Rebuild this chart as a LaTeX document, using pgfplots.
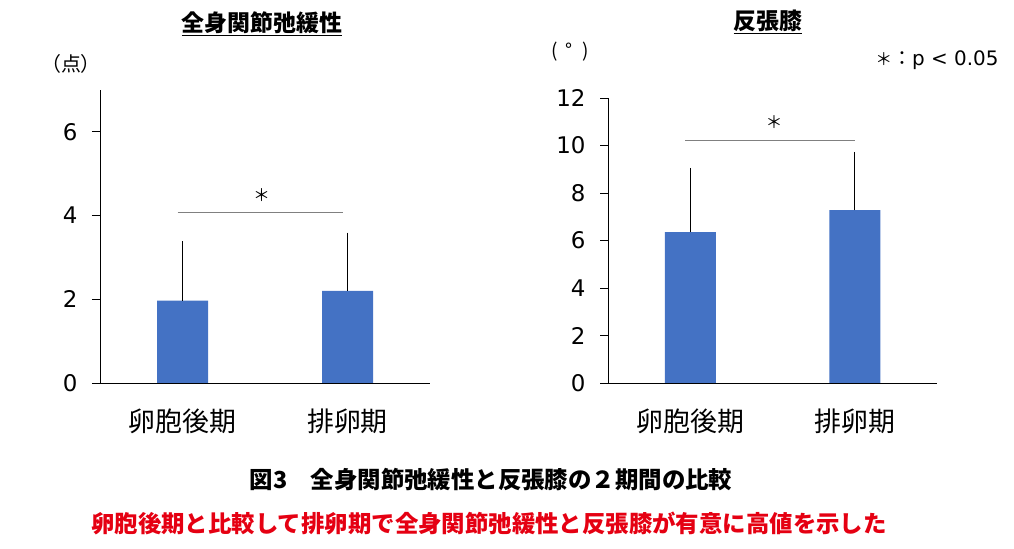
\documentclass[border=0pt]{standalone}
\usepackage{fontspec}
\setmainfont{Noto Sans CJK JP}
\newfontfamily\dejavu{DejaVu Sans}
\usepackage{pgfplots}
\pgfplotsset{compat=1.18}
\definecolor{barblue}{HTML}{4472C4}
\definecolor{capred}{HTML}{E50012}
\pgfplotsset{
 mybar/.style={
  scale only axis,
  axis lines*=left,
  x axis line style={shorten <=-8bp},
  xmin=-0.5, xmax=1.5, ymin=0,
  xtick={0,1}, xticklabels={卵胞後期,排卵期},
  xtick style={draw=none},
  tick align=outside,
  major tick length=8bp,
  ytick style={black, line width=0.8bp},
  axis line style={black, line width=0.9bp},
  /pgf/number format/assume math mode=true,
  yticklabel style={font=\dejavu\fontsize{23}{23}\selectfont, xshift=-11bp},
  xticklabel style={font=\fontsize{27}{27}\selectfont, yshift=-14bp},
  clip=false,
 },
 errbar/.style={ybar, bar width=51bp, fill=barblue, draw=none,
  error bars/.cd, y dir=plus, y explicit,
  error bar style={black, line width=0.8bp},
  error mark options={black, mark size=3bp, line width=0.9bp}},
}
\begin{document}
\begin{tikzpicture}
\path (0bp,0bp) rectangle (1014bp,549bp);
\begin{axis}[mybar, at={(100bp,166bp)}, anchor=south west,
  width=330bp, height=293bp, ymax=7, ytick={0,2,4,6}]
\addplot[errbar] coordinates {(0,1.97) +- (0,1.34) (1,2.20) +- (0,1.32)};
\addplot[gray, line width=0.8bp] coordinates {(-0.03,4.08) (0.97,4.08)};
\node at (axis cs:0.48,4.49) {\fontsize{17}{17}\selectfont ＊};
\end{axis}
\begin{axis}[mybar, at={(608bp,166bp)}, anchor=south west,
  width=329bp, height=285bp, ymax=12, ytick={0,2,4,6,8,10,12}]
\addplot[errbar] coordinates {(0,6.35) +- (0,2.58) (1,7.28) +- (0,2.33)};
\addplot[gray, line width=0.8bp] coordinates {(-0.03,10.2) (1.0,10.2)};
\node at (axis cs:0.51,11.0) {\fontsize{17}{17}\selectfont ＊};
\end{axis}
\node at (262bp,525bp) {\fontsize{23}{23}\selectfont\bfseries\underline{全身関節弛緩性}};
\node at (768bp,527bp) {\fontsize{23}{23}\selectfont\bfseries\underline{反張膝}};
\node at (71bp,485bp) {\fontsize{20}{20}\selectfont （点）};
\node at (570bp,497bp) {\fontsize{19}{19}\selectfont (\hspace{8bp}°\hspace{10bp})};
\node[anchor=east] at (1002bp,489bp) {\fontsize{20}{20}\selectfont {\fontsize{17}{17}\selectfont ＊}：{\dejavu p < 0.05}};
\node at (491bp,69bp) {\fontsize{23.5}{23.5}\selectfont\bfseries 図3　全身関節弛緩性と反張膝の２期間の比較};
\node[text=capred] at (489bp,26bp) {\fontsize{23.5}{23.5}\selectfont\bfseries 卵胞後期と比較して排卵期で全身関節弛緩性と反張膝が有意に高値を示した};
\end{tikzpicture}
\end{document}
